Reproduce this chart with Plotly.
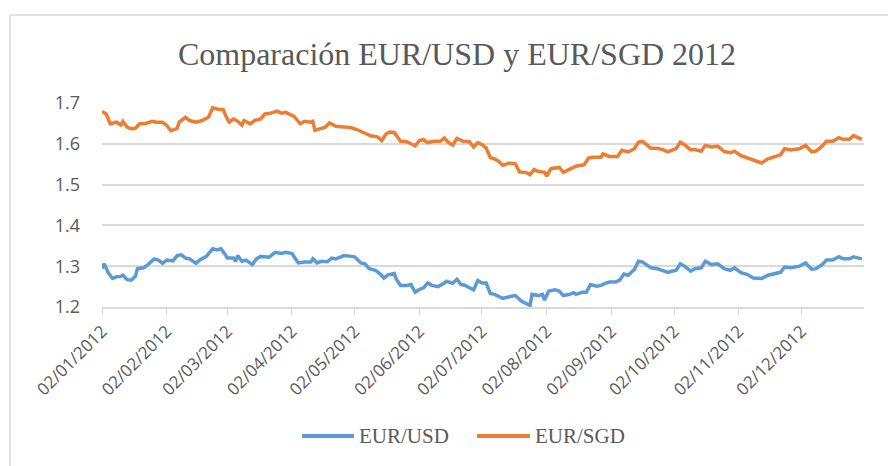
import plotly.graph_objects as go

# EUR/USD daily rate
usd_dates = [
    "2012-01-02", "2012-01-03", "2012-01-05", "2012-01-07", "2012-01-09", "2012-01-11",
    "2012-01-12", "2012-01-14", "2012-01-16", "2012-01-18", "2012-01-19", "2012-01-22",
    "2012-01-24", "2012-01-27", "2012-01-29", "2012-01-31", "2012-02-02", "2012-02-05",
    "2012-02-07", "2012-02-09", "2012-02-11", "2012-02-13", "2012-02-16", "2012-02-18",
    "2012-02-21", "2012-02-24", "2012-02-26", "2012-02-28", "2012-03-01", "2012-03-02",
    "2012-03-05", "2012-03-06", "2012-03-07", "2012-03-09", "2012-03-11", "2012-03-14",
    "2012-03-16", "2012-03-18", "2012-03-22", "2012-03-25", "2012-03-28", "2012-03-30",
    "2012-04-02", "2012-04-05", "2012-04-08", "2012-04-11", "2012-04-12", "2012-04-14",
    "2012-04-16", "2012-04-19", "2012-04-21", "2012-04-23", "2012-04-27", "2012-04-30",
    "2012-05-02", "2012-05-05", "2012-05-07", "2012-05-09", "2012-05-12", "2012-05-14",
    "2012-05-16", "2012-05-18", "2012-05-21", "2012-05-22", "2012-05-24", "2012-05-27",
    "2012-05-29", "2012-05-31", "2012-06-02", "2012-06-04", "2012-06-06", "2012-06-08",
    "2012-06-11", "2012-06-14", "2012-06-15", "2012-06-18", "2012-06-20", "2012-06-22",
    "2012-06-24", "2012-06-26", "2012-06-28", "2012-06-30", "2012-07-02", "2012-07-04",
    "2012-07-06", "2012-07-08", "2012-07-12", "2012-07-15", "2012-07-18", "2012-07-21",
    "2012-07-23", "2012-07-25", "2012-07-26", "2012-07-29", "2012-07-31", "2012-08-01",
    "2012-08-03", "2012-08-06", "2012-08-08", "2012-08-10", "2012-08-13", "2012-08-15",
    "2012-08-16", "2012-08-19", "2012-08-21", "2012-08-23", "2012-08-26", "2012-08-28",
    "2012-08-30", "2012-09-01", "2012-09-04", "2012-09-06", "2012-09-08", "2012-09-10",
    "2012-09-13", "2012-09-15", "2012-09-17", "2012-09-21", "2012-09-24", "2012-09-27",
    "2012-09-29", "2012-10-03", "2012-10-05", "2012-10-07", "2012-10-10", "2012-10-12",
    "2012-10-15", "2012-10-17", "2012-10-20", "2012-10-23", "2012-10-26", "2012-10-29",
    "2012-10-31", "2012-11-03", "2012-11-06", "2012-11-09", "2012-11-13", "2012-11-16",
    "2012-11-19", "2012-11-22", "2012-11-24", "2012-11-27", "2012-12-01", "2012-12-04",
    "2012-12-07", "2012-12-09", "2012-12-12", "2012-12-14", "2012-12-17", "2012-12-20",
    "2012-12-22", "2012-12-25", "2012-12-27", "2012-12-29", "2012-12-31",
]
usd_values = [
    1.294, 1.306, 1.284, 1.270, 1.274, 1.275,
    1.278, 1.267, 1.266, 1.275, 1.294, 1.296,
    1.304, 1.318, 1.315, 1.307, 1.315, 1.313,
    1.326, 1.328, 1.320, 1.318, 1.307, 1.316,
    1.324, 1.343, 1.340, 1.343, 1.329, 1.320,
    1.320, 1.312, 1.326, 1.312, 1.315, 1.304,
    1.318, 1.324, 1.322, 1.334, 1.331, 1.334,
    1.331, 1.308, 1.310, 1.310, 1.318, 1.308,
    1.312, 1.311, 1.320, 1.318, 1.326, 1.325,
    1.323, 1.308, 1.306, 1.294, 1.290, 1.282,
    1.271, 1.279, 1.282, 1.268, 1.253, 1.253,
    1.255, 1.236, 1.243, 1.247, 1.259, 1.253,
    1.250, 1.259, 1.263, 1.258, 1.268, 1.255,
    1.253, 1.247, 1.242, 1.265, 1.259, 1.259,
    1.233, 1.231, 1.221, 1.225, 1.228, 1.214,
    1.210, 1.204, 1.231, 1.228, 1.231, 1.217,
    1.239, 1.242, 1.239, 1.228, 1.231, 1.235,
    1.231, 1.236, 1.236, 1.255, 1.251, 1.253,
    1.258, 1.261, 1.261, 1.266, 1.281, 1.278,
    1.292, 1.312, 1.310, 1.296, 1.294, 1.288,
    1.285, 1.290, 1.306, 1.300, 1.288, 1.294,
    1.296, 1.312, 1.304, 1.306, 1.294, 1.290,
    1.296, 1.284, 1.280, 1.271, 1.270, 1.278,
    1.281, 1.285, 1.298, 1.296, 1.300, 1.308,
    1.292, 1.294, 1.304, 1.315, 1.315, 1.323,
    1.318, 1.318, 1.323, 1.321, 1.318,
]

# EUR/SGD daily rate
sgd_dates = [
    "2012-01-02", "2012-01-04", "2012-01-06", "2012-01-09", "2012-01-11", "2012-01-12",
    "2012-01-14", "2012-01-16", "2012-01-18", "2012-01-20", "2012-01-23", "2012-01-26",
    "2012-01-28", "2012-01-31", "2012-02-02", "2012-02-04", "2012-02-07", "2012-02-08",
    "2012-02-11", "2012-02-13", "2012-02-16", "2012-02-19", "2012-02-22", "2012-02-24",
    "2012-02-27", "2012-02-29", "2012-03-02", "2012-03-03", "2012-03-05", "2012-03-07",
    "2012-03-09", "2012-03-10", "2012-03-13", "2012-03-15", "2012-03-18", "2012-03-20",
    "2012-03-22", "2012-03-26", "2012-03-28", "2012-03-30", "2012-04-03", "2012-04-06",
    "2012-04-08", "2012-04-11", "2012-04-12", "2012-04-13", "2012-04-16", "2012-04-18",
    "2012-04-20", "2012-04-23", "2012-04-27", "2012-04-30", "2012-05-03", "2012-05-06",
    "2012-05-10", "2012-05-13", "2012-05-15", "2012-05-17", "2012-05-19", "2012-05-21",
    "2012-05-24", "2012-05-27", "2012-05-29", "2012-05-31", "2012-06-02", "2012-06-04",
    "2012-06-06", "2012-06-09", "2012-06-12", "2012-06-14", "2012-06-16", "2012-06-18",
    "2012-06-20", "2012-06-23", "2012-06-26", "2012-06-28", "2012-06-30", "2012-07-02",
    "2012-07-04", "2012-07-06", "2012-07-08", "2012-07-10", "2012-07-12", "2012-07-15",
    "2012-07-18", "2012-07-20", "2012-07-23", "2012-07-25", "2012-07-27", "2012-07-29",
    "2012-08-01", "2012-08-02", "2012-08-04", "2012-08-06", "2012-08-08", "2012-08-10",
    "2012-08-13", "2012-08-16", "2012-08-20", "2012-08-22", "2012-08-24", "2012-08-28",
    "2012-08-29", "2012-09-01", "2012-09-05", "2012-09-07", "2012-09-10", "2012-09-13",
    "2012-09-15", "2012-09-17", "2012-09-21", "2012-09-24", "2012-09-27", "2012-09-29",
    "2012-10-03", "2012-10-05", "2012-10-07", "2012-10-10", "2012-10-12", "2012-10-15",
    "2012-10-17", "2012-10-20", "2012-10-23", "2012-10-26", "2012-10-29", "2012-10-31",
    "2012-11-03", "2012-11-06", "2012-11-09", "2012-11-13", "2012-11-16", "2012-11-19",
    "2012-11-22", "2012-11-24", "2012-11-27", "2012-12-01", "2012-12-04", "2012-12-07",
    "2012-12-09", "2012-12-12", "2012-12-14", "2012-12-17", "2012-12-20", "2012-12-22",
    "2012-12-25", "2012-12-27", "2012-12-29", "2012-12-31",
]
sgd_values = [
    1.679, 1.673, 1.649, 1.653, 1.646, 1.655,
    1.641, 1.637, 1.638, 1.649, 1.650, 1.655,
    1.653, 1.653, 1.645, 1.632, 1.638, 1.653,
    1.665, 1.657, 1.653, 1.657, 1.665, 1.688,
    1.684, 1.684, 1.661, 1.653, 1.661, 1.655,
    1.646, 1.657, 1.649, 1.657, 1.661, 1.673,
    1.674, 1.680, 1.675, 1.677, 1.667, 1.649,
    1.655, 1.653, 1.655, 1.633, 1.638, 1.641,
    1.651, 1.643, 1.641, 1.640, 1.635, 1.628,
    1.619, 1.617, 1.608, 1.624, 1.629, 1.628,
    1.606, 1.605, 1.600, 1.595, 1.608, 1.610,
    1.603, 1.606, 1.606, 1.614, 1.603, 1.597,
    1.613, 1.606, 1.605, 1.592, 1.603, 1.598,
    1.590, 1.566, 1.563, 1.557, 1.547, 1.553,
    1.551, 1.531, 1.530, 1.524, 1.537, 1.532,
    1.530, 1.521, 1.539, 1.540, 1.542, 1.530,
    1.537, 1.545, 1.549, 1.565, 1.567, 1.567,
    1.575, 1.569, 1.569, 1.584, 1.580, 1.588,
    1.604, 1.606, 1.589, 1.589, 1.585, 1.580,
    1.588, 1.604, 1.598, 1.585, 1.586, 1.582,
    1.596, 1.592, 1.594, 1.581, 1.578, 1.582,
    1.571, 1.566, 1.559, 1.553, 1.563, 1.567,
    1.573, 1.588, 1.585, 1.588, 1.596, 1.580,
    1.582, 1.594, 1.606, 1.606, 1.615, 1.611,
    1.611, 1.620, 1.616, 1.611,
]

tick_dates = [
    "2012-01-02", "2012-02-02", "2012-03-02", "2012-04-02", "2012-05-02", "2012-06-02",
    "2012-07-02", "2012-08-02", "2012-09-02", "2012-10-02", "2012-11-02", "2012-12-02",
]
tick_labels = [
    "02/01/2012", "02/02/2012", "02/03/2012", "02/04/2012", "02/05/2012", "02/06/2012",
    "02/07/2012", "02/08/2012", "02/09/2012", "02/10/2012", "02/11/2012", "02/12/2012",
]

GRID = "#d9d9d9"
TEXT = "#595959"
BLUE = "#5b9bd5"
ORANGE = "#ed7d31"

fig = go.Figure()
fig.add_trace(
    go.Scatter(
        x=usd_dates, y=usd_values, name="EUR/USD", mode="lines",
        line=dict(color=BLUE, width=3.5), showlegend=False,
    )
)
fig.add_trace(
    go.Scatter(
        x=sgd_dates, y=sgd_values, name="EUR/SGD", mode="lines",
        line=dict(color=ORANGE, width=3.5), showlegend=False,
    )
)

# chart border (cropped on right and bottom in the reference)
fig.add_shape(
    type="rect", xref="paper", yref="paper",
    x0=-0.1207, y0=-0.80, x1=1.06, y1=1.431,
    line=dict(color=GRID, width=1.5),
)

# Excel-style legend with long line keys below the axis
legend_y = -0.632
for name, color, x0, x1 in [
    ("EUR/USD", BLUE, 0.2625, 0.3307),
    ("EUR/SGD", ORANGE, 0.4921, 0.5617),
]:
    fig.add_shape(
        type="line", xref="paper", yref="paper",
        x0=x0, x1=x1, y0=legend_y, y1=legend_y,
        line=dict(color=color, width=4),
    )
    fig.add_annotation(
        text=name, xref="paper", yref="paper",
        x=x1 + 0.004, y=legend_y, xanchor="left", yanchor="middle",
        showarrow=False,
        font=dict(family="Liberation Serif", size=21, color=TEXT),
    )

# the page body has an 8px margin, so the figure is offset by 8px
fig.update_layout(
    width=896,
    height=466,
    margin=dict(l=94, r=40, t=95, b=167),
    paper_bgcolor="white",
    plot_bgcolor="white",
    showlegend=False,
    title=dict(
        text="Comparación EUR/USD y EUR/SGD 2012",
        x=449 / 896, xref="container", xanchor="center",
        y=1 - 46 / 466, yref="container", yanchor="middle",
        font=dict(family="Liberation Serif", size=32, color=TEXT),
    ),
    xaxis=dict(
        type="date",
        range=["2012-01-02", "2013-01-01"],
        tickvals=tick_dates,
        ticktext=tick_labels,
        tickangle=-45,
        ticks="outside",
        ticklen=6,
        tickcolor=GRID,
        showline=True,
        linecolor=GRID,
        linewidth=1.5,
        showgrid=False,
        tickfont=dict(family="Open Sans", size=17, color=TEXT),
    ),
    yaxis=dict(
        range=[1.2, 1.7],
        dtick=0.1,
        tickformat=".1f",
        showgrid=True,
        gridcolor=GRID,
        gridwidth=1.5,
        zeroline=False,
        ticks="",
        ticklabelstandoff=21,
        tickfont=dict(family="Open Sans", size=18, color=TEXT),
    ),
)

fig.write_html("out.html")
